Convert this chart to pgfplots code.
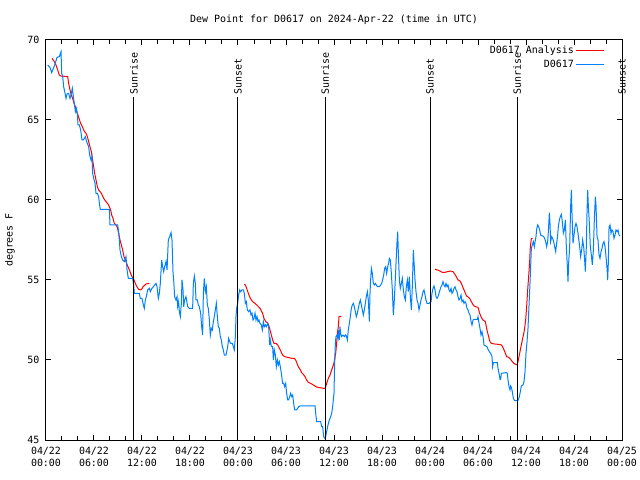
\documentclass[border=0pt]{standalone}
\usepackage{pgfplots}
\pgfplotsset{compat=1.18}
\usepackage{fontspec}
\setmainfont{DejaVu Sans Mono}
\definecolor{obsblue}{RGB}{0,128,255}
\begin{document}
\begin{tikzpicture}
\begin{axis}[
  scale only axis, width=576bp, height=400bp,
  xmin=0, xmax=72, ymin=45, ymax=70,
  font=\fontsize{10}{12}\selectfont,
  /pgf/number format/assume math mode=true,
  axis line style={line width=1bp},
  every tick/.style={black, line width=1bp},
  tick align=inside,
  major tick length=5bp, minor tick length=4bp,
  xtick={0,6,...,72}, minor x tick num=2,
  xticklabels={{04/22\\00:00},{04/22\\06:00},{04/22\\12:00},{04/22\\18:00},{04/23\\00:00},{04/23\\06:00},{04/23\\12:00},{04/23\\18:00},{04/24\\00:00},{04/24\\06:00},{04/24\\12:00},{04/24\\18:00},{04/25\\00:00}},
  xticklabel style={align=center, yshift=-4bp},
  yticklabel style={xshift=-3bp},
  ytick={45,50,...,70},
  ylabel={degrees F},
  ylabel style={at={(axis description cs:-0.0625,0.5)}, anchor=center},
  title={Dew Point for D0617 on 2024-Apr-22 (time in UTC)},
  title style={at={(axis description cs:0.5,1)}, anchor=south, yshift=6bp},
  clip mode=individual,
  legend style={draw=none, fill=none, at={(axis description cs:1,1)}, anchor=north east, xshift=-16bp, yshift=-3bp, inner sep=1bp, row sep=0.5bp},
  legend plot pos=right,
  legend cell align=right,
  legend image code/.code={\draw[#1] (8bp,0bp) -- (36bp,0bp);},
]
% analysis (red)
\addplot[red, line width=1bp] coordinates {
(0.75,68.85) (1.04,68.65) (1.25,68.44) (1.46,68.13) (1.67,67.81) (1.88,67.75) (2.71,67.71) (2.83,67.29)
(3.0,66.88) (3.17,66.56) (3.33,66.35) (3.5,66.04) (3.67,65.83) (3.83,65.52) (4.0,65.31) (4.17,65.04)
(4.33,64.79) (4.5,64.63) (4.67,64.42) (4.83,64.27) (5.0,64.17) (5.17,63.96) (5.33,63.65) (5.5,63.33)
(5.67,63.02) (5.83,62.5) (5.96,62.08) (6.08,61.67) (6.25,61.25) (6.42,60.83) (6.58,60.63) (6.75,60.52)
(6.92,60.42) (7.08,60.25) (7.29,60.04) (7.5,59.90) (7.75,59.75) (7.92,59.58) (8.08,59.38) (8.21,59.06)
(8.38,58.85) (8.54,58.54) (8.75,58.44) (8.92,58.29) (9.08,57.92) (9.25,57.5) (9.42,57.19) (9.58,56.88)
(9.75,56.46) (9.92,56.25) (10.08,56.04) (10.25,55.83) (10.42,55.63) (10.58,55.42) (10.75,55.21) (10.92,55.10)
(11.08,54.90) (11.25,54.69) (11.42,54.54) (11.58,54.42) (11.79,54.38) (11.96,54.42) (12.13,54.58) (12.29,54.65)
(12.5,54.75) (12.92,54.79)
};
\addlegendentry{D0617 Analysis}
\addplot[red, line width=1bp, forget plot] coordinates {
(24.79,54.73) (24.92,54.69) (25.08,54.48) (25.29,54.17) (25.5,53.90) (25.67,53.75) (25.83,53.65) (26.13,53.54)
(26.46,53.38) (26.75,53.23) (26.96,53.02) (27.08,52.92) (27.25,52.60) (27.46,52.40) (27.67,52.33) (27.83,52.19)
(28.0,51.88) (28.17,51.56) (28.33,51.25) (28.5,51.04) (28.75,51.04) (28.96,50.94) (29.17,50.73) (29.38,50.52)
(29.58,50.31) (29.83,50.21) (30.33,50.15) (30.75,50.10) (31.04,50.10) (31.21,50.0) (31.38,49.79) (31.54,49.58)
(31.75,49.42) (31.96,49.21) (32.17,49.10) (32.38,48.96) (32.58,48.75) (32.79,48.60) (33.08,48.54) (33.42,48.44)
(33.83,48.31) (34.25,48.27) (34.67,48.23) (34.88,48.23) (34.96,48.33) (35.08,48.54) (35.29,48.85) (35.5,49.06)
(35.71,49.38) (35.92,49.69) (36.0,49.83) (36.21,50.42) (36.33,51.04) (36.42,51.67) (36.54,52.08) (36.63,52.71)
(36.92,52.71)
};
\addplot[red, line width=1bp, forget plot] coordinates {
(48.63,55.67) (48.92,55.63) (49.25,55.56) (49.54,55.48) (49.88,55.48) (50.17,55.52) (50.58,55.56) (50.88,55.52)
(51.08,55.38) (51.29,55.21) (51.5,55.0) (51.71,54.96) (51.92,54.79) (52.08,54.58) (52.25,54.38) (52.42,54.17)
(52.58,54.0) (52.83,53.92) (53.0,53.81) (53.17,53.65) (53.33,53.5) (53.5,53.38) (53.71,53.33) (54.0,53.29)
(54.21,52.92) (54.42,52.65) (54.63,52.5) (54.92,52.40) (55.04,52.08) (55.17,51.77) (55.33,51.46) (55.5,51.15)
(55.67,51.04) (56.08,51.0) (56.5,50.98) (56.92,50.94) (57.08,50.83) (57.25,50.63) (57.42,50.42) (57.58,50.21)
(57.83,50.17) (58.08,50.04) (58.29,49.90) (58.5,49.79) (58.71,49.73) (58.92,49.69) (59.0,49.90) (59.08,50.10)
(59.21,50.42) (59.33,50.73) (59.46,51.04) (59.58,51.35) (59.71,51.63) (59.83,51.98) (59.96,52.5) (60.08,53.33)
(60.21,54.38) (60.33,55.21) (60.46,56.15) (60.54,57.08) (60.67,57.60) (60.83,57.60)
};
% observations (blue)
\addplot[obsblue, line width=1bp] coordinates {
(0.21,68.44) (0.5,68.29) (0.71,67.96) (0.92,68.23) (1.13,68.5) (1.38,68.92) (1.67,68.96) (1.88,69.27)
(1.96,67.92) (2.08,67.75) (2.21,67.08) (2.38,66.67) (2.5,66.35) (2.63,66.63) (2.83,66.67) (3.0,66.35)
(3.17,66.67) (3.29,66.98) (3.42,66.46) (3.54,66.04) (3.67,65.52) (3.79,65.73) (3.92,65.42) (4.0,64.69)
(4.17,64.69) (4.33,64.38) (4.5,63.75) (4.67,63.75) (4.92,63.96) (5.08,63.65) (5.33,63.33) (5.46,62.81)
(5.63,62.5) (5.75,62.71) (5.83,61.67) (5.96,61.35) (6.13,61.04) (6.25,60.42) (6.42,60.42) (6.58,60.21)
(6.67,59.79) (6.79,59.42) (7.92,59.42) (8.0,58.44) (8.96,58.44) (9.08,58.02) (9.17,57.5) (9.25,56.88)
(9.42,56.46) (9.58,56.25) (9.79,56.15) (10.0,56.46) (10.13,55.63) (10.29,55.1) (10.83,55.1) (10.96,54.69)
(11.04,54.17) (11.67,54.17) (11.79,53.85) (12.0,53.85) (12.17,53.44) (12.29,53.23) (12.42,53.75) (12.54,53.96)
(12.71,54.38) (12.92,54.48) (13.04,54.27) (13.25,54.48) (13.42,54.58) (13.58,54.69) (13.75,54.79) (13.88,54.58)
(14.04,53.85) (14.17,54.17) (14.29,54.79) (14.46,56.25) (14.58,55.83) (14.71,55.52) (14.83,55.83) (15.0,56.15)
(15.13,55.63) (15.29,57.5) (15.46,57.71) (15.63,57.96) (15.75,57.5) (15.88,55.42) (15.96,55.0) (16.08,53.96)
(16.25,53.75) (16.38,53.96) (16.46,53.33) (16.58,53.65) (16.67,53.02) (16.79,52.71) (16.92,53.54) (17.0,55.0)
(17.13,54.38) (17.21,53.33) (17.33,53.75) (17.5,53.96) (17.71,53.33) (17.92,53.23)
(18.00,53.23) (18.33,53.23) (18.42,54.79) (18.54,55.25) (18.67,54.79) (18.75,53.75) (18.92,53.75) (19.04,53.44)
(19.17,53.33) (19.33,52.92) (19.46,52.08) (19.58,51.56) (19.67,54.17) (19.79,55.10) (19.92,54.27) (20.04,54.58)
(20.17,53.44) (20.29,53.23) (20.42,52.5) (20.54,51.56) (20.67,51.98) (20.79,51.88) (20.92,52.40) (21.04,52.71)
(21.17,53.13) (21.29,53.54) (21.42,52.71) (21.54,52.08) (21.67,51.98) (21.79,51.46) (21.92,51.25) (22.04,50.83)
(22.17,50.63) (22.29,50.31) (22.5,50.31) (22.63,50.63) (22.71,50.83) (22.83,51.35) (22.96,51.15) (23.08,51.04)
(23.29,51.04) (23.42,50.83) (23.54,50.63) (23.67,51.46) (23.75,52.71) (23.83,53.23) (23.96,53.54) (24.08,54.06)
(24.21,54.38) (24.33,54.27) (24.5,54.38) (24.67,54.38) (24.79,54.17) (24.92,53.54) (25.04,53.65) (25.17,53.13)
(25.33,53.02) (25.5,53.13) (25.63,52.81) (25.75,52.92) (25.88,52.5) (26.0,52.6) (26.13,52.92) (26.25,52.5)
(26.38,52.71) (26.5,52.40) (26.63,52.5) (26.75,52.29) (26.92,52.19) (27.04,51.88) (27.17,52.40) (27.29,52.08)
(27.42,52.19) (27.54,52.08) (27.71,52.29) (27.83,52.08) (27.96,50.94) (28.04,51.25) (28.17,50.83) (28.33,50.83)
(28.42,50.0) (28.54,50.63) (28.67,50.31) (28.79,49.58) (28.92,50.0) (29.04,49.69) (29.17,49.90) (29.29,49.58)
(29.42,49.17) (29.58,48.54) (29.71,48.54) (29.83,48.33) (29.96,48.54) (30.08,47.92) (30.21,47.5) (30.33,47.5)
(30.46,47.71) (30.58,47.92) (30.71,47.71) (30.83,47.81) (30.96,47.29) (31.08,46.88) (31.33,46.88) (31.46,46.98)
(31.58,47.08) (31.75,47.13) (33.63,47.13) (33.71,46.67) (33.83,46.15) (34.33,46.15) (34.46,45.83) (34.58,45.83)
(34.71,45.21) (34.88,45.10) (35.0,45.31) (35.08,45.52) (35.25,45.94) (35.42,46.25) (35.58,46.46) (35.71,46.67)
(35.83,47.08) (36.0,47.92)
(36.08,49.79) (36.17,51.04) (36.25,51.46) (36.38,51.56) (36.5,51.35) (36.58,51.88) (36.67,51.25) (36.75,52.08)
(36.83,51.67) (36.96,51.46) (37.13,51.56) (37.29,51.46) (37.42,51.56) (37.54,51.5) (37.67,51.25) (37.79,51.88)
(37.92,52.29) (38.04,52.71) (38.17,53.23) (38.29,53.44) (38.42,53.54) (38.54,53.33) (38.67,53.02) (38.79,52.71)
(38.92,52.92) (39.04,53.23) (39.17,53.54) (39.29,53.75) (39.42,53.44) (39.54,53.13) (39.67,52.81) (39.79,53.13)
(39.92,53.54) (40.04,53.96) (40.17,54.27) (40.29,53.75) (40.42,52.40) (40.5,54.17) (40.58,55.0) (40.67,55.73)
(40.79,55.42) (40.92,54.79) (41.04,54.69) (41.17,54.79) (41.29,54.69) (41.42,54.58) (41.67,54.58) (41.83,54.69)
(41.96,54.79) (42.08,55.0) (42.21,55.31) (42.33,55.73) (42.46,55.83) (42.58,55.42) (42.71,55.83) (42.83,56.04)
(42.92,56.35) (43.04,56.25) (43.17,55.42) (43.29,54.38) (43.42,52.81) (43.54,53.75) (43.67,55.10) (43.79,56.46)
(43.88,57.40) (43.96,58.02) (44.04,56.77) (44.17,55.0) (44.29,54.48) (44.42,54.79) (44.54,55.10) (44.67,54.38)
(44.79,53.96) (44.92,53.75) (45.04,54.58) (45.17,55.0) (45.29,54.27) (45.42,55.21) (45.54,53.96) (45.67,53.13)
(45.79,54.58) (45.92,56.88) (46.0,56.15) (46.13,55.0) (46.25,54.27) (46.38,53.75) (46.5,53.54) (46.63,53.13)
(46.75,53.44) (46.88,53.75) (47.0,53.96) (47.13,54.27) (47.25,54.38) (47.38,54.06) (47.5,53.75) (47.63,53.54)
(47.88,53.54) (48.13,53.65) (48.25,54.17) (48.38,54.48) (48.5,54.63) (48.63,54.38) (48.75,53.96) (48.88,53.85)
(49.0,53.96) (49.13,54.17) (49.25,54.38) (49.38,54.58) (49.5,54.69) (49.63,54.90) (49.75,54.69) (49.88,54.58)
(50.0,54.79) (50.13,54.58) (50.25,54.69) (50.38,54.38) (50.5,54.27) (50.63,54.48) (50.75,54.17) (50.88,54.27)
(51.0,54.48) (51.13,54.58) (51.25,54.38) (51.38,54.27) (51.5,53.96) (51.63,53.75) (51.75,53.85) (51.88,54.06)
(52.0,53.65) (52.13,53.75) (52.25,53.54) (52.38,53.65) (52.5,53.54) (52.63,53.23) (52.75,53.13) (52.88,52.92)
(53.0,52.81) (53.13,52.40) (53.25,52.19) (53.38,52.5) (53.5,52.54) (53.92,52.54) (54.0,52.71)
(54.13,52.29) (54.25,51.98) (54.38,51.56) (54.5,51.77) (54.63,51.46) (54.75,50.94) (55.13,50.83) (55.25,50.67)
(55.42,50.52) (55.58,50.42) (55.75,50.21) (55.83,49.58) (55.92,49.83) (56.42,49.83) (56.5,49.48) (56.67,49.06)
(56.75,48.79) (56.83,48.79) (56.92,49.17) (57.54,49.21) (57.67,49.17) (57.75,48.75) (57.88,48.33) (58.0,48.13)
(58.08,48.38) (58.17,48.29) (58.29,48.02) (58.42,47.60) (58.58,47.46) (58.83,47.46) (59.04,47.5) (59.17,47.71)
(59.29,48.02) (59.42,48.38) (59.63,48.44) (59.75,48.65) (59.88,49.27) (60.0,50.42) (60.13,51.15) (60.25,51.98)
(60.38,53.44) (60.5,54.79) (60.58,55.83) (60.67,56.98) (60.79,57.19) (60.92,57.40) (61.04,57.08) (61.17,57.5)
(61.25,57.71) (61.33,58.17) (61.46,58.44) (61.58,58.33) (61.71,58.13) (61.83,57.81) (62.08,57.75) (62.21,57.71)
(62.33,57.60) (62.46,57.40) (62.58,57.08) (62.71,57.40) (62.83,58.33) (62.92,59.21) (63.0,58.54) (63.08,57.40)
(63.21,57.71) (63.33,57.60) (63.46,57.40) (63.58,57.08) (63.71,56.77) (63.83,57.29) (63.96,57.81) (64.04,58.33)
(64.17,58.75) (64.29,58.96) (64.42,59.10) (64.54,58.65) (64.67,57.92) (64.79,58.13) (64.92,58.75) (65.04,57.08)
(65.17,55.83) (65.25,54.90) (65.33,56.04) (65.46,57.08) (65.58,59.58) (65.67,60.63) (65.75,59.17) (65.88,57.29)
(66.0,57.81) (66.13,58.33) (66.25,58.54) (66.38,58.33) (66.5,57.92) (66.63,57.40) (66.71,57.08) (66.83,56.46)
(66.96,56.88) (67.08,57.5) (67.21,57.08) (67.33,56.25) (67.42,55.52) (67.54,57.08) (67.63,59.27) (67.71,60.63)
(67.79,59.69) (67.92,58.54) (68.04,57.08) (68.17,56.56) (68.29,55.94) (68.42,56.88) (68.54,58.75) (68.67,60.21)
(68.75,59.69) (68.88,57.71) (69.0,57.5) (69.13,56.56) (69.25,56.35) (69.38,56.77) (69.5,56.98) (69.63,57.29)
(69.75,57.40) (69.88,57.08) (70.0,56.46) (70.13,55.73) (70.21,55.0) (70.29,56.04) (70.38,58.33) (70.5,58.44)
(70.63,57.92) (70.75,58.13) (70.88,58.02) (71.0,57.60) (71.13,57.81) (71.25,58.13) (71.38,58.02) (71.5,58.13)
(71.63,57.81) (71.75,57.75)
};
\addlegendentry{D0617}
% sunrise / sunset markers
\addplot[black, line width=1bp, forget plot] coordinates {(11,45) (11,66.45)};
\addplot[black, line width=1bp, forget plot] coordinates {(24,45) (24,66.45)};
\addplot[black, line width=1bp, forget plot] coordinates {(34.9,45) (34.9,66.45)};
\addplot[black, line width=1bp, forget plot] coordinates {(48,45) (48,66.45)};
\addplot[black, line width=1bp, forget plot] coordinates {(58.9,45) (58.9,66.45)};
\addplot[black, line width=1bp, forget plot] coordinates {(72,45) (72,66.45)};
\node[rotate=90, anchor=west, inner sep=2bp] at (axis cs:11,66.45) {Sunrise};
\node[rotate=90, anchor=west, inner sep=2bp] at (axis cs:24,66.45) {Sunset};
\node[rotate=90, anchor=west, inner sep=2bp] at (axis cs:34.9,66.45) {Sunrise};
\node[rotate=90, anchor=west, inner sep=2bp] at (axis cs:48,66.45) {Sunset};
\node[rotate=90, anchor=west, inner sep=2bp] at (axis cs:58.9,66.45) {Sunrise};
\node[rotate=90, anchor=west, inner sep=2bp] at (axis cs:72,66.45) {Sunset};
\end{axis}
\pgfresetboundingbox
\path[use as bounding box] ([shift={(-46bp,-40bp)}]current axis.south west) rectangle ([shift={(18bp,40bp)}]current axis.north east);
\end{tikzpicture}
\end{document}
